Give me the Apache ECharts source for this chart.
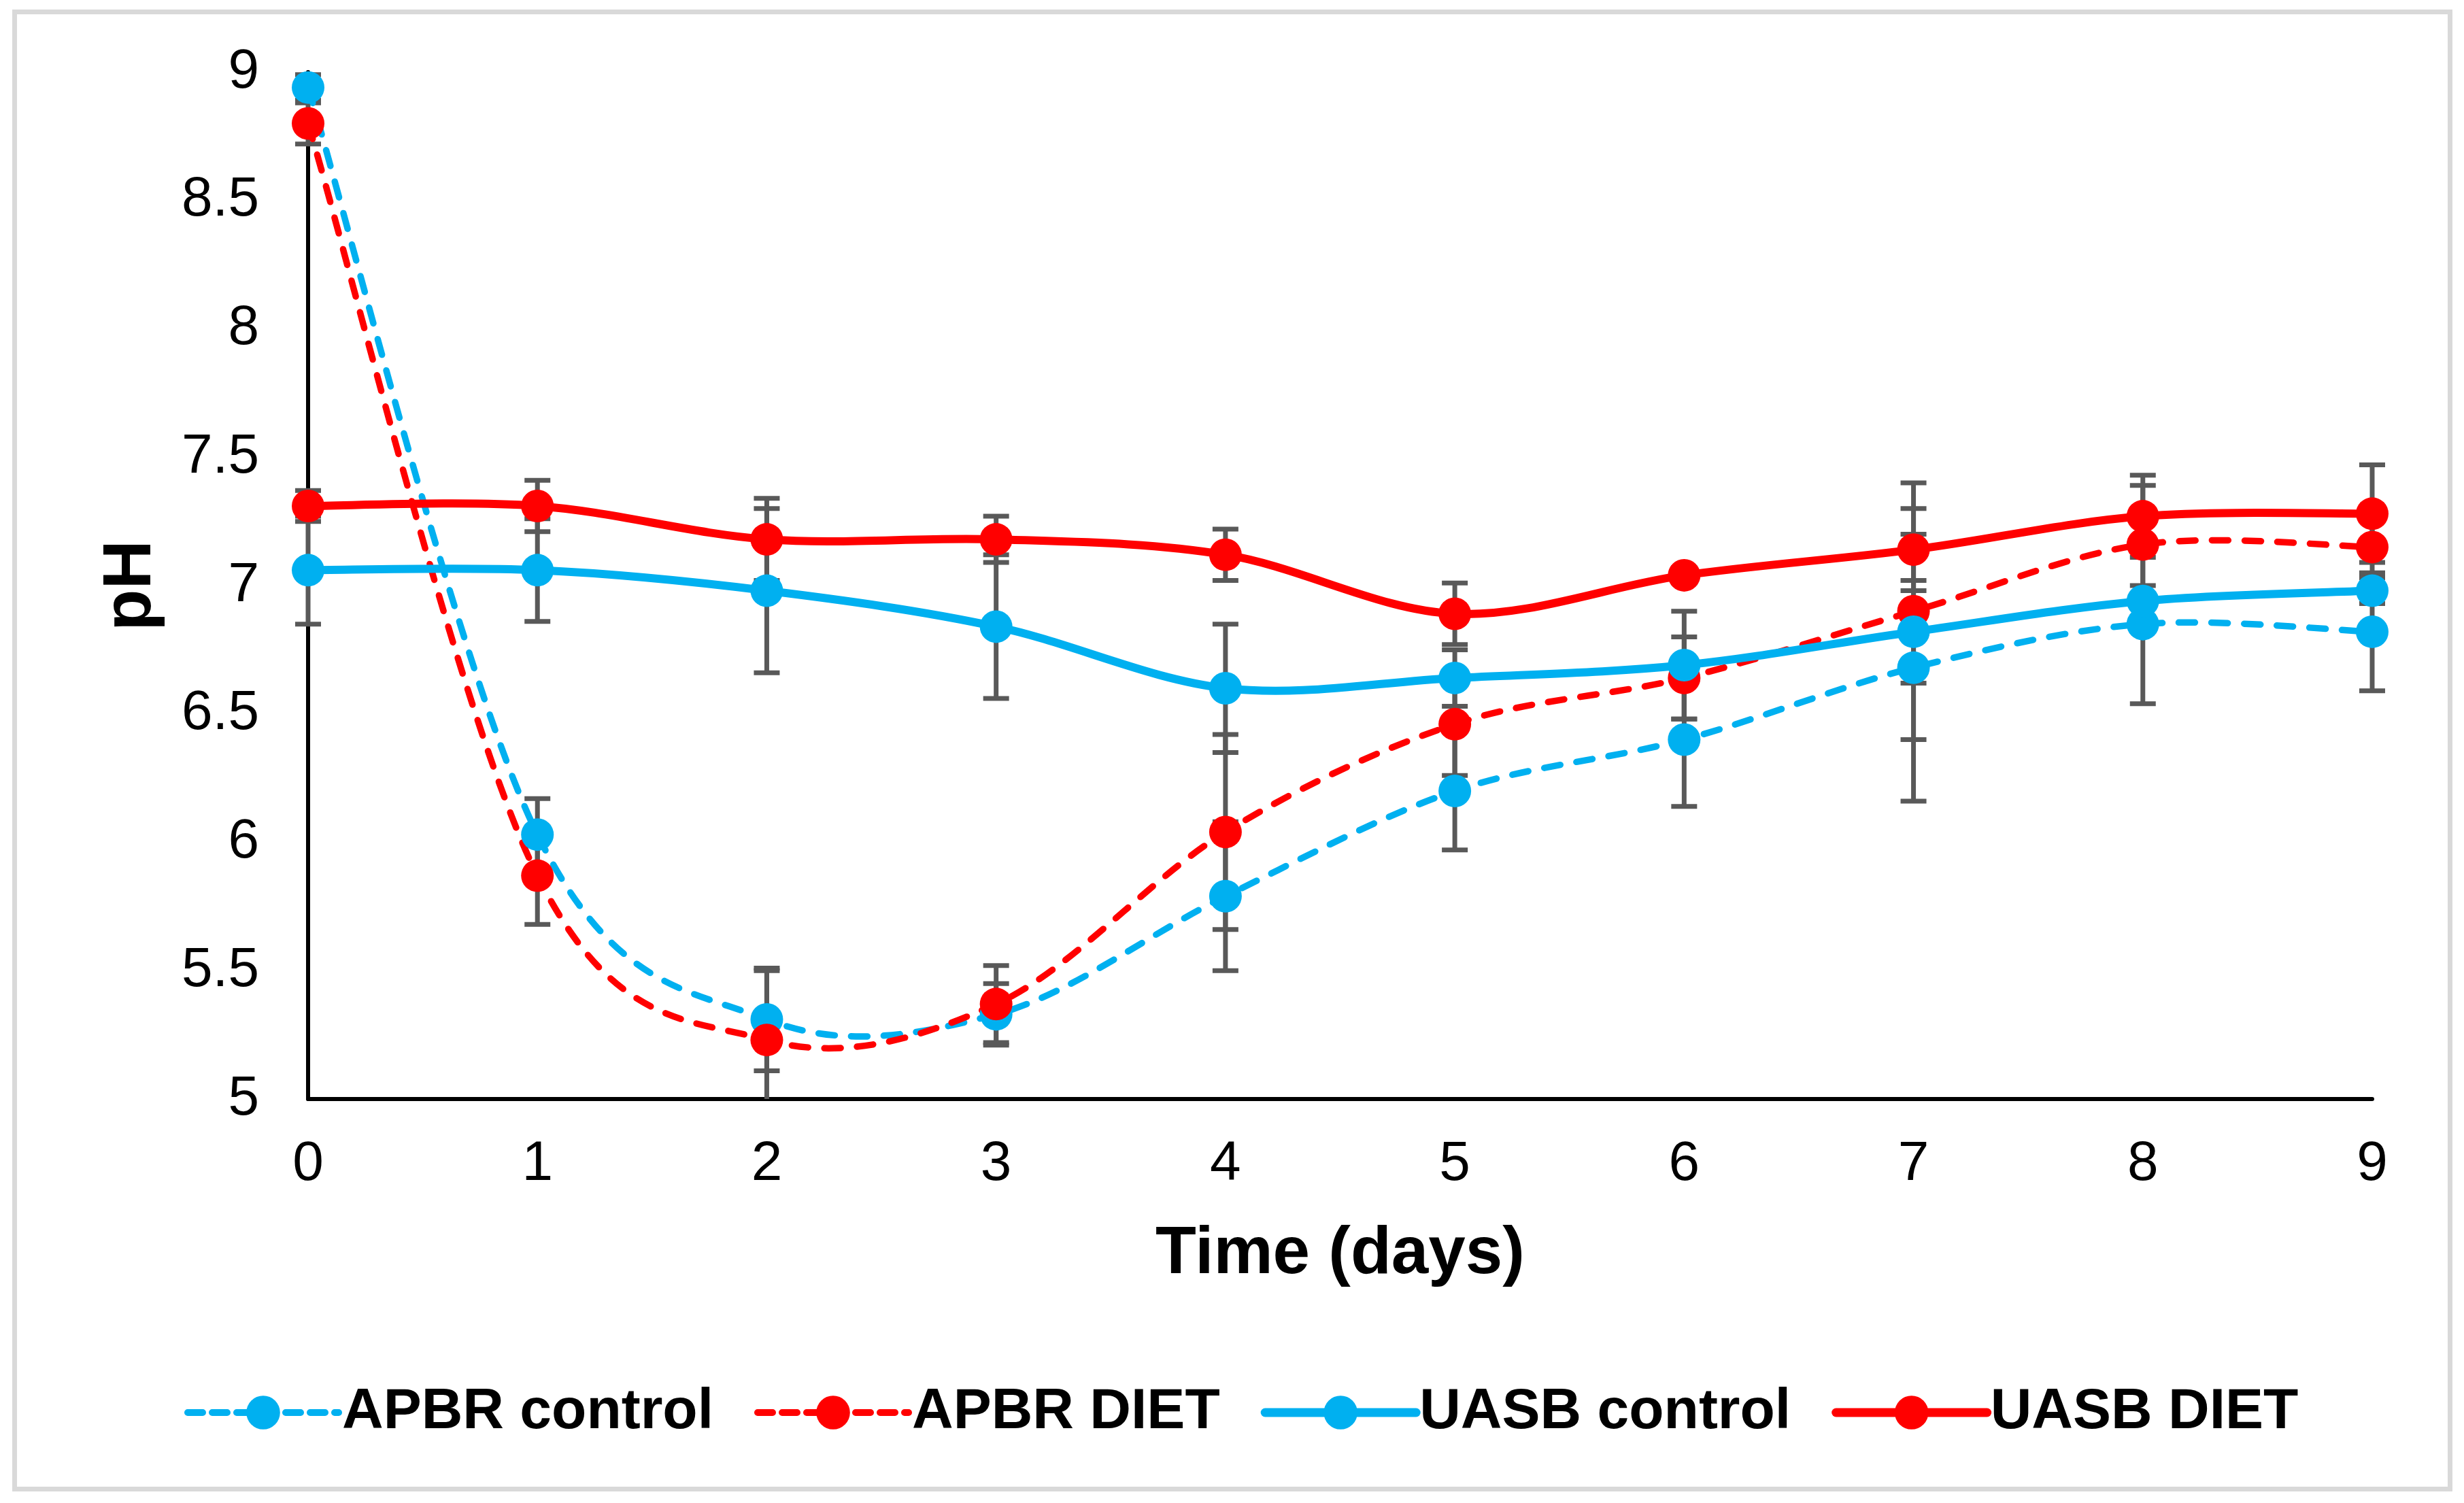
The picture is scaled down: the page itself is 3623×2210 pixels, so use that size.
<!DOCTYPE html>
<html>
<head>
<meta charset="utf-8">
<script src="https://cdn.jsdelivr.net/npm/echarts@6/dist/echarts.min.js"></script>
<style>
html,body{margin:0;padding:0;background:#fff;}
#chart{width:3623px;height:2210px;}
</style>
</head>
<body>
<div id="chart"></div>
<script>
// ---- data ----
const days = [0, 1, 2, 3, 4, 5, 6, 7, 8, 9];
const yTicks = [5, 5.5, 6, 6.5, 7, 7.5, 8, 8.5, 9];
const seriesNames = ['APBR control', 'APBR DIET', 'UASB control', 'UASB DIET'];
const apbrControl = [8.94, 6.03, 5.31, 5.33, 5.79, 6.20, 6.40, 6.68, 6.85, 6.82];
const apbrDiet    = [8.80, 5.87, 5.23, 5.37, 6.04, 6.46, 6.64, 6.90, 7.16, 7.15];
const uasbControl = [7.06, 7.06, 6.98, 6.84, 6.60, 6.64, 6.69, 6.82, 6.94, 6.98];
const uasbDiet    = [7.31, 7.31, 7.18, 7.18, 7.12, 6.89, 7.04, 7.14, 7.27, 7.28];
const apbrControlErr = [0.05, 0.14, 0.20, 0.12, 0.29, 0.23, 0.26, 0.52, 0.31, 0.23];
const apbrDietErr    = [0.08, 0.19, 0.27, 0.15, 0.38, 0.20, 0.16, 0.50, 0.23, 0.11];
const uasbControlErr = [0.21, 0.20, 0.32, 0.28, 0.25, 0.11, 0.21, 0.20, 0.06, 0.05];
const uasbDietErr    = [0.06, 0.10, 0.16, 0.09, 0.10, 0.12, 0.03, 0.16, 0.16, 0.19];

// ---- styles ----
const BLUE = '#00B0F0', RED = '#FF0000', ERR = '#595959';
const FONT = '"Liberation Sans", Arial, sans-serif';
const yMin = yTicks[0], yMax = yTicks[yTicks.length - 1];

const values = [apbrControl, apbrDiet, uasbControl, uasbDiet];
const errs = [apbrControlErr, apbrDietErr, uasbControlErr, uasbDietErr];
const colors = [BLUE, RED, BLUE, RED];
const dashed = [true, true, false, false];
const DASH = [24, 24];
const lineW = i => dashed[i] ? 9.5 : 12;

const chart = echarts.init(document.getElementById('chart'), null, {renderer: 'canvas'});

function errRender(params, api) {
  const x = api.value(0), y = api.value(1), e = api.value(2);
  const lo = y - e, hi = y + e;
  const children = [];
  const capHalf = 19;
  const style = {stroke: ERR, lineWidth: 7};
  const loC = Math.max(lo, yMin), hiC = Math.min(hi, yMax);
  const pLo = api.coord([x, loC]), pHi = api.coord([x, hiC]);
  children.push({type: 'line', shape: {x1: pLo[0], y1: pLo[1], x2: pHi[0], y2: pHi[1]}, style: style});
  if (lo >= yMin) children.push({type: 'line', shape: {x1: pLo[0] - capHalf, y1: pLo[1], x2: pLo[0] + capHalf, y2: pLo[1]}, style: style});
  if (hi <= yMax) children.push({type: 'line', shape: {x1: pHi[0] - capHalf, y1: pHi[1], x2: pHi[0] + capHalf, y2: pHi[1]}, style: style});
  return {type: 'group', children: children};
}

// Excel-like smoothed curve (Catmull-Rom, tension 1/6) built from the data via api.coord
function curveRender(idx) {
  return function (params, api) {
    if (params.dataIndex !== 0) return null;
    const vals = values[idx];
    const p = days.map((d, k) => api.coord([d, vals[k]]));
    const n = p.length;
    let d = 'M' + p[0][0] + ' ' + p[0][1];
    for (let i = 0; i < n - 1; i++) {
      const a = p[Math.max(i - 1, 0)], b = p[i], c = p[i + 1], e = p[Math.min(i + 2, n - 1)];
      const c1x = b[0] + (c[0] - a[0]) / 6, c1y = b[1] + (c[1] - a[1]) / 6;
      const c2x = c[0] - (e[0] - b[0]) / 6, c2y = c[1] - (e[1] - b[1]) / 6;
      d += ' C' + c1x + ' ' + c1y + ' ' + c2x + ' ' + c2y + ' ' + c[0] + ' ' + c[1];
    }
    return {
      type: 'path',
      shape: {pathData: d},
      style: {
        fill: 'none', stroke: colors[idx], lineWidth: lineW(idx),
        lineDash: dashed[idx] ? DASH : null, lineCap: 'round', lineJoin: 'round'
      }
    };
  };
}

const series = [];
values.forEach((vals, i) => {
  series.push({
    type: 'custom',
    name: seriesNames[i] + ' err',
    renderItem: errRender,
    data: days.map((d, k) => [d, vals[k], errs[i][k]]),
    z: 1, silent: true,
    encode: {x: 0, y: 1}
  });
});
values.forEach((vals, i) => {
  series.push({
    type: 'custom',
    name: seriesNames[i] + ' curve',
    renderItem: curveRender(i),
    data: days.map((d, k) => [d, vals[k]]),
    z: 2, silent: true,
    encode: {x: 0, y: 1}
  });
});
values.forEach((vals, i) => {
  series.push({
    type: 'line',
    name: seriesNames[i],
    data: days.map((d, k) => [d, vals[k]]),
    symbol: 'circle',
    symbolSize: 48,
    showAllSymbol: true,
    z: 3,
    itemStyle: {color: colors[i], borderWidth: 0},
    lineStyle: {color: colors[i], width: 0, opacity: 0},
    emphasis: {disabled: true}
  });
});

chart.setOption({
  animation: false,
  backgroundColor: '#fff',
  graphic: [{
    type: 'rect',
    shape: {x: 21.5, y: 17.5, width: 3581, height: 2172},
    style: {fill: 'none', stroke: '#D9D9D9', lineWidth: 7},
    z: -10
  }],
  grid: {left: 453, right: 135, top: 106, bottom: 594},
  legend: {
    data: seriesNames.map((nm, i) => ({
      name: nm,
      lineStyle: {color: colors[i], width: dashed[i] ? 10 : 13, opacity: 1, type: dashed[i] ? [22, 14] : 'solid', cap: 'round'},
      itemStyle: {color: colors[i]}
    })),
    left: 266,
    top: 2070 - 40,
    itemWidth: 222,
    itemHeight: 62,
    itemGap: 60,
    textStyle: {fontFamily: FONT, fontSize: 84, fontWeight: 'bold', color: '#000'}
  },
  xAxis: {
    type: 'value',
    min: 0, max: 9, interval: 1,
    name: 'Time (days)',
    nameLocation: 'middle',
    nameGap: 180,
    nameTextStyle: {fontFamily: FONT, fontSize: 98, fontWeight: 'bold', color: '#000'},
    axisLine: {show: true, onZero: false, lineStyle: {color: '#000', width: 6}},
    axisTick: {show: false},
    splitLine: {show: false},
    axisLabel: {fontFamily: FONT, fontSize: 82, color: '#000', margin: 55}
  },
  yAxis: {
    type: 'value',
    min: 5, max: 9, interval: 0.5,
    name: 'pH',
    nameLocation: 'middle',
    nameGap: 210,
    nameRotate: 90,
    nameTextStyle: {fontFamily: FONT, fontSize: 100, fontWeight: 'bold', color: '#000'},
    axisLine: {show: true, lineStyle: {color: '#000', width: 6}},
    axisTick: {show: false},
    splitLine: {show: false},
    axisLabel: {fontFamily: FONT, fontSize: 82, color: '#000', margin: 72}
  },
  series: series
});
</script>
</body>
</html>
